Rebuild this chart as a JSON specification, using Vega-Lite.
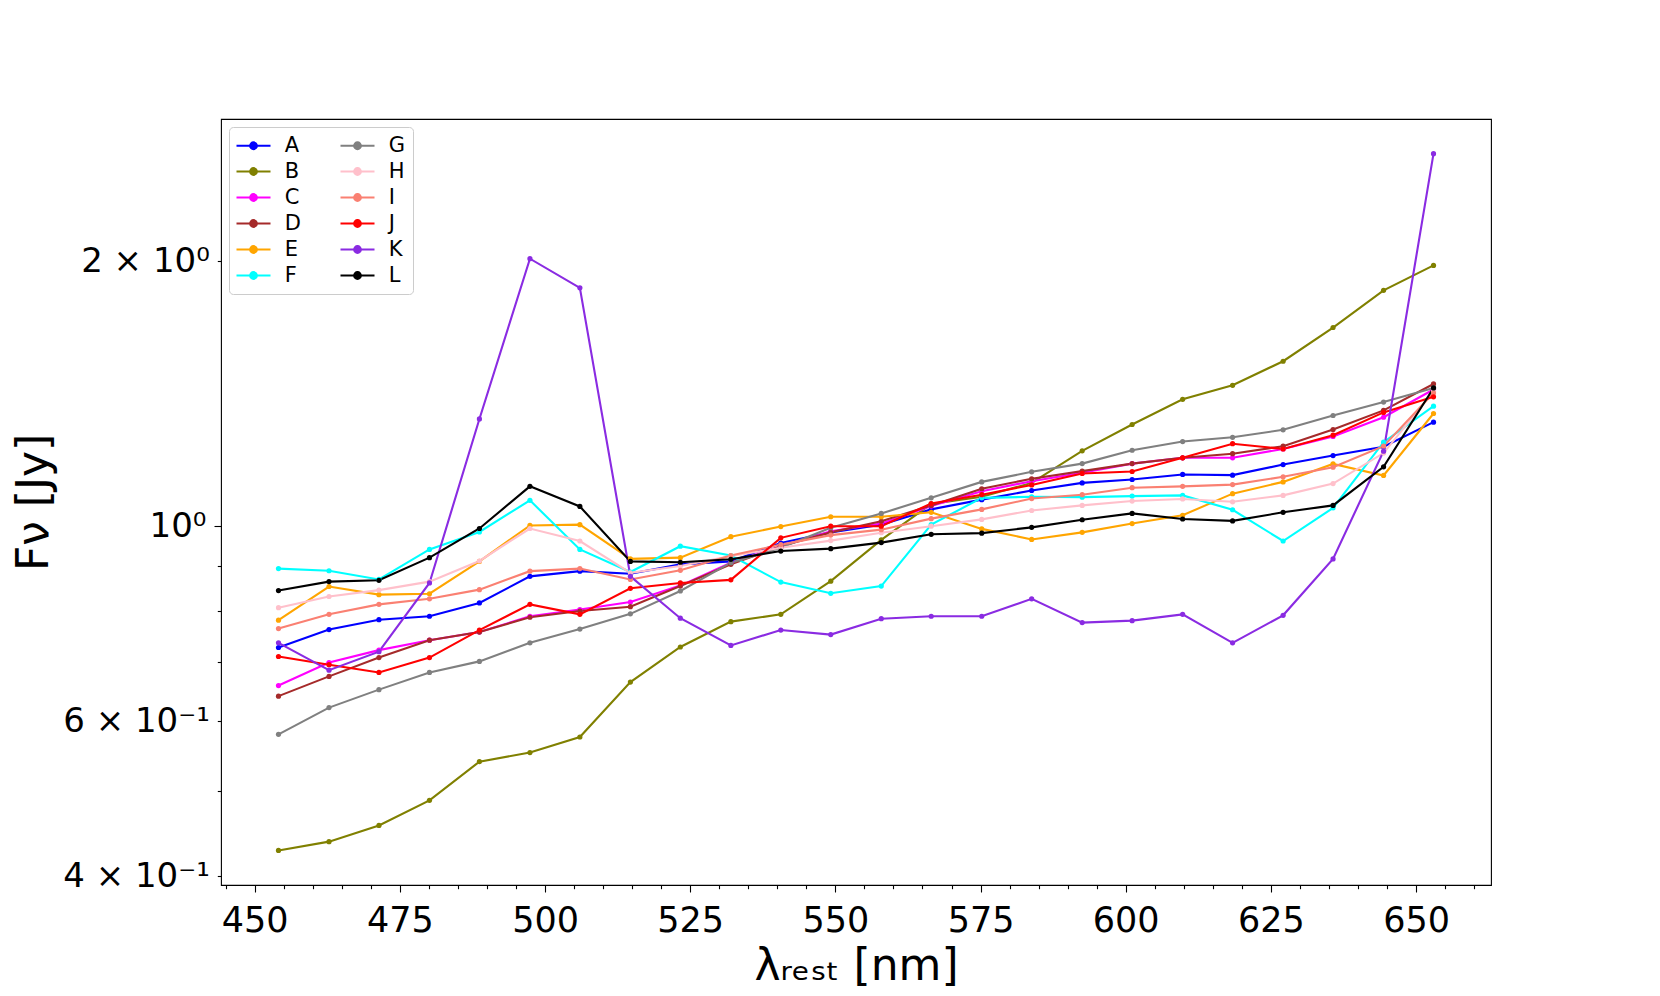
{
  "$schema": "https://vega.github.io/schema/vega-lite/v6.json",
  "description": "Flux density spectra of twelve sources against rest wavelength, log scale",
  "width": 1270,
  "height": 766,
  "autosize": {"type": "none"},
  "padding": {"left": 221, "top": 119, "right": 169, "bottom": 111},
  "background": "white",
  "datasets": {
    "spectra": [
      {"s":"A","w":454.1,"f":0.728},{"s":"A","w":462.8,"f":0.763},{"s":"A","w":471.4,"f":0.783},{"s":"A","w":480.1,"f":0.790},{"s":"A","w":488.7,"f":0.818},{"s":"A","w":497.4,"f":0.877},{"s":"A","w":506.0,"f":0.889},{"s":"A","w":514.7,"f":0.883},{"s":"A","w":523.3,"f":0.905},{"s":"A","w":532.0,"f":0.912},{"s":"A","w":540.6,"f":0.957},{"s":"A","w":549.2,"f":0.984},{"s":"A","w":557.9,"f":1.004},{"s":"A","w":566.5,"f":1.045},{"s":"A","w":575.2,"f":1.072},{"s":"A","w":583.8,"f":1.098},{"s":"A","w":592.5,"f":1.120},{"s":"A","w":601.1,"f":1.130},{"s":"A","w":609.8,"f":1.145},{"s":"A","w":618.4,"f":1.143},{"s":"A","w":627.1,"f":1.175},{"s":"A","w":635.7,"f":1.203},{"s":"A","w":644.4,"f":1.231},{"s":"A","w":653.0,"f":1.313},
      {"s":"B","w":454.1,"f":0.428},{"s":"B","w":462.8,"f":0.438},{"s":"B","w":471.4,"f":0.457},{"s":"B","w":480.1,"f":0.488},{"s":"B","w":488.7,"f":0.540},{"s":"B","w":497.4,"f":0.553},{"s":"B","w":506.0,"f":0.576},{"s":"B","w":514.7,"f":0.665},{"s":"B","w":523.3,"f":0.729},{"s":"B","w":532.0,"f":0.779},{"s":"B","w":540.6,"f":0.794},{"s":"B","w":549.2,"f":0.866},{"s":"B","w":557.9,"f":0.965},{"s":"B","w":566.5,"f":1.060},{"s":"B","w":575.2,"f":1.080},{"s":"B","w":583.8,"f":1.120},{"s":"B","w":592.5,"f":1.218},{"s":"B","w":601.1,"f":1.305},{"s":"B","w":609.8,"f":1.394},{"s":"B","w":618.4,"f":1.446},{"s":"B","w":627.1,"f":1.540},{"s":"B","w":635.7,"f":1.682},{"s":"B","w":644.4,"f":1.854},{"s":"B","w":653.0,"f":1.979},
      {"s":"C","w":454.1,"f":0.659},{"s":"C","w":462.8,"f":0.700},{"s":"C","w":471.4,"f":0.723},{"s":"C","w":480.1,"f":0.742},{"s":"C","w":488.7,"f":0.758},{"s":"C","w":497.4,"f":0.790},{"s":"C","w":506.0,"f":0.804},{"s":"C","w":514.7,"f":0.820},{"s":"C","w":523.3,"f":0.856},{"s":"C","w":532.0,"f":0.909},{"s":"C","w":540.6,"f":0.949},{"s":"C","w":549.2,"f":0.987},{"s":"C","w":557.9,"f":1.007},{"s":"C","w":566.5,"f":1.054},{"s":"C","w":575.2,"f":1.096},{"s":"C","w":583.8,"f":1.125},{"s":"C","w":592.5,"f":1.150},{"s":"C","w":601.1,"f":1.178},{"s":"C","w":609.8,"f":1.196},{"s":"C","w":618.4,"f":1.196},{"s":"C","w":627.1,"f":1.224},{"s":"C","w":635.7,"f":1.265},{"s":"C","w":644.4,"f":1.330},{"s":"C","w":653.0,"f":1.430},
      {"s":"D","w":454.1,"f":0.641},{"s":"D","w":462.8,"f":0.675},{"s":"D","w":471.4,"f":0.709},{"s":"D","w":480.1,"f":0.742},{"s":"D","w":488.7,"f":0.758},{"s":"D","w":497.4,"f":0.788},{"s":"D","w":506.0,"f":0.801},{"s":"D","w":514.7,"f":0.810},{"s":"D","w":523.3,"f":0.855},{"s":"D","w":532.0,"f":0.905},{"s":"D","w":540.6,"f":0.949},{"s":"D","w":549.2,"f":0.984},{"s":"D","w":557.9,"f":1.013},{"s":"D","w":566.5,"f":1.056},{"s":"D","w":575.2,"f":1.103},{"s":"D","w":583.8,"f":1.132},{"s":"D","w":592.5,"f":1.155},{"s":"D","w":601.1,"f":1.178},{"s":"D","w":609.8,"f":1.196},{"s":"D","w":618.4,"f":1.209},{"s":"D","w":627.1,"f":1.233},{"s":"D","w":635.7,"f":1.288},{"s":"D","w":644.4,"f":1.354},{"s":"D","w":653.0,"f":1.451},
      {"s":"E","w":454.1,"f":0.782},{"s":"E","w":462.8,"f":0.854},{"s":"E","w":471.4,"f":0.836},{"s":"E","w":480.1,"f":0.838},{"s":"E","w":488.7,"f":0.912},{"s":"E","w":497.4,"f":1.002},{"s":"E","w":506.0,"f":1.004},{"s":"E","w":514.7,"f":0.918},{"s":"E","w":523.3,"f":0.921},{"s":"E","w":532.0,"f":0.973},{"s":"E","w":540.6,"f":0.999},{"s":"E","w":549.2,"f":1.025},{"s":"E","w":557.9,"f":1.025},{"s":"E","w":566.5,"f":1.037},{"s":"E","w":575.2,"f":0.993},{"s":"E","w":583.8,"f":0.966},{"s":"E","w":592.5,"f":0.984},{"s":"E","w":601.1,"f":1.007},{"s":"E","w":609.8,"f":1.029},{"s":"E","w":618.4,"f":1.089},{"s":"E","w":627.1,"f":1.123},{"s":"E","w":635.7,"f":1.177},{"s":"E","w":644.4,"f":1.142},{"s":"E","w":653.0,"f":1.343},
      {"s":"F","w":454.1,"f":0.895},{"s":"F","w":462.8,"f":0.890},{"s":"F","w":471.4,"f":0.870},{"s":"F","w":480.1,"f":0.941},{"s":"F","w":488.7,"f":0.985},{"s":"F","w":497.4,"f":1.070},{"s":"F","w":506.0,"f":0.941},{"s":"F","w":514.7,"f":0.887},{"s":"F","w":523.3,"f":0.949},{"s":"F","w":532.0,"f":0.926},{"s":"F","w":540.6,"f":0.864},{"s":"F","w":549.2,"f":0.839},{"s":"F","w":557.9,"f":0.855},{"s":"F","w":566.5,"f":1.004},{"s":"F","w":575.2,"f":1.077},{"s":"F","w":583.8,"f":1.080},{"s":"F","w":592.5,"f":1.079},{"s":"F","w":601.1,"f":1.082},{"s":"F","w":609.8,"f":1.084},{"s":"F","w":618.4,"f":1.044},{"s":"F","w":627.1,"f":0.962},{"s":"F","w":635.7,"f":1.049},{"s":"F","w":644.4,"f":1.246},{"s":"F","w":653.0,"f":1.369},
      {"s":"G","w":454.1,"f":0.580},{"s":"G","w":462.8,"f":0.622},{"s":"G","w":471.4,"f":0.652},{"s":"G","w":480.1,"f":0.682},{"s":"G","w":488.7,"f":0.702},{"s":"G","w":497.4,"f":0.737},{"s":"G","w":506.0,"f":0.764},{"s":"G","w":514.7,"f":0.795},{"s":"G","w":523.3,"f":0.844},{"s":"G","w":532.0,"f":0.909},{"s":"G","w":540.6,"f":0.945},{"s":"G","w":549.2,"f":0.996},{"s":"G","w":557.9,"f":1.034},{"s":"G","w":566.5,"f":1.077},{"s":"G","w":575.2,"f":1.123},{"s":"G","w":583.8,"f":1.153},{"s":"G","w":592.5,"f":1.178},{"s":"G","w":601.1,"f":1.220},{"s":"G","w":609.8,"f":1.248},{"s":"G","w":618.4,"f":1.262},{"s":"G","w":627.1,"f":1.287},{"s":"G","w":635.7,"f":1.336},{"s":"G","w":644.4,"f":1.384},{"s":"G","w":653.0,"f":1.436},
      {"s":"H","w":454.1,"f":0.808},{"s":"H","w":462.8,"f":0.832},{"s":"H","w":471.4,"f":0.846},{"s":"H","w":480.1,"f":0.865},{"s":"H","w":488.7,"f":0.913},{"s":"H","w":497.4,"f":0.994},{"s":"H","w":506.0,"f":0.962},{"s":"H","w":514.7,"f":0.885},{"s":"H","w":523.3,"f":0.901},{"s":"H","w":532.0,"f":0.925},{"s":"H","w":540.6,"f":0.945},{"s":"H","w":549.2,"f":0.963},{"s":"H","w":557.9,"f":0.983},{"s":"H","w":566.5,"f":1.000},{"s":"H","w":575.2,"f":1.018},{"s":"H","w":583.8,"f":1.042},{"s":"H","w":592.5,"f":1.056},{"s":"H","w":601.1,"f":1.068},{"s":"H","w":609.8,"f":1.074},{"s":"H","w":618.4,"f":1.066},{"s":"H","w":627.1,"f":1.084},{"s":"H","w":635.7,"f":1.118},{"s":"H","w":644.4,"f":1.211},{"s":"H","w":653.0,"f":1.423},
      {"s":"I","w":454.1,"f":0.765},{"s":"I","w":462.8,"f":0.794},{"s":"I","w":471.4,"f":0.815},{"s":"I","w":480.1,"f":0.827},{"s":"I","w":488.7,"f":0.847},{"s":"I","w":497.4,"f":0.889},{"s":"I","w":506.0,"f":0.895},{"s":"I","w":514.7,"f":0.870},{"s":"I","w":523.3,"f":0.891},{"s":"I","w":532.0,"f":0.926},{"s":"I","w":540.6,"f":0.953},{"s":"I","w":549.2,"f":0.977},{"s":"I","w":557.9,"f":0.991},{"s":"I","w":566.5,"f":1.020},{"s":"I","w":575.2,"f":1.045},{"s":"I","w":583.8,"f":1.075},{"s":"I","w":592.5,"f":1.086},{"s":"I","w":601.1,"f":1.106},{"s":"I","w":609.8,"f":1.110},{"s":"I","w":618.4,"f":1.115},{"s":"I","w":627.1,"f":1.138},{"s":"I","w":635.7,"f":1.167},{"s":"I","w":644.4,"f":1.233},{"s":"I","w":653.0,"f":1.417},
      {"s":"J","w":454.1,"f":0.711},{"s":"J","w":462.8,"f":0.696},{"s":"J","w":471.4,"f":0.682},{"s":"J","w":480.1,"f":0.709},{"s":"J","w":488.7,"f":0.762},{"s":"J","w":497.4,"f":0.815},{"s":"J","w":506.0,"f":0.794},{"s":"J","w":514.7,"f":0.850},{"s":"J","w":523.3,"f":0.862},{"s":"J","w":532.0,"f":0.869},{"s":"J","w":540.6,"f":0.970},{"s":"J","w":549.2,"f":1.000},{"s":"J","w":557.9,"f":1.000},{"s":"J","w":566.5,"f":1.061},{"s":"J","w":575.2,"f":1.086},{"s":"J","w":583.8,"f":1.114},{"s":"J","w":592.5,"f":1.148},{"s":"J","w":601.1,"f":1.154},{"s":"J","w":609.8,"f":1.196},{"s":"J","w":618.4,"f":1.241},{"s":"J","w":627.1,"f":1.224},{"s":"J","w":635.7,"f":1.269},{"s":"J","w":644.4,"f":1.347},{"s":"J","w":653.0,"f":1.403},
      {"s":"K","w":454.1,"f":0.737},{"s":"K","w":462.8,"f":0.686},{"s":"K","w":471.4,"f":0.720},{"s":"K","w":480.1,"f":0.862},{"s":"K","w":488.7,"f":1.324},{"s":"K","w":497.4,"f":2.014},{"s":"K","w":506.0,"f":1.866},{"s":"K","w":514.7,"f":0.877},{"s":"K","w":523.3,"f":0.786},{"s":"K","w":532.0,"f":0.732},{"s":"K","w":540.6,"f":0.762},{"s":"K","w":549.2,"f":0.753},{"s":"K","w":557.9,"f":0.785},{"s":"K","w":566.5,"f":0.790},{"s":"K","w":575.2,"f":0.790},{"s":"K","w":583.8,"f":0.827},{"s":"K","w":592.5,"f":0.777},{"s":"K","w":601.1,"f":0.781},{"s":"K","w":609.8,"f":0.794},{"s":"K","w":618.4,"f":0.737},{"s":"K","w":627.1,"f":0.792},{"s":"K","w":635.7,"f":0.918},{"s":"K","w":644.4,"f":1.217},{"s":"K","w":653.0,"f":2.651},
      {"s":"L","w":454.1,"f":0.845},{"s":"L","w":462.8,"f":0.865},{"s":"L","w":471.4,"f":0.868},{"s":"L","w":480.1,"f":0.921},{"s":"L","w":488.7,"f":0.994},{"s":"L","w":497.4,"f":1.110},{"s":"L","w":506.0,"f":1.053},{"s":"L","w":514.7,"f":0.912},{"s":"L","w":523.3,"f":0.910},{"s":"L","w":532.0,"f":0.917},{"s":"L","w":540.6,"f":0.937},{"s":"L","w":549.2,"f":0.943},{"s":"L","w":557.9,"f":0.958},{"s":"L","w":566.5,"f":0.979},{"s":"L","w":575.2,"f":0.982},{"s":"L","w":583.8,"f":0.997},{"s":"L","w":592.5,"f":1.017},{"s":"L","w":601.1,"f":1.034},{"s":"L","w":609.8,"f":1.019},{"s":"L","w":618.4,"f":1.014},{"s":"L","w":627.1,"f":1.037},{"s":"L","w":635.7,"f":1.056},{"s":"L","w":644.4,"f":1.168},{"s":"L","w":653.0,"f":1.436}
    ]
  },
  "data": {"name": "spectra"},
  "encoding": {
    "x": {
      "field": "w",
      "type": "quantitative",
      "title": "λᵣₑₛₜ [nm]",
      "scale": {"domain": [444.2, 662.9], "nice": false, "zero": false},
      "axis": {
        "values": [445,450,455,460,465,470,475,480,485,490,495,500,505,510,515,520,525,530,535,540,545,550,555,560,565,570,575,580,585,590,595,600,605,610,615,620,625,630,635,640,645,650,655,660],
        "labelExpr": "datum.value % 25 === 0 ? format(datum.value, 'd') : ''",
        "tickSize": {"condition": {"test": "datum.value % 25 === 0", "value": 7}, "value": 3.7},
        "labelPadding": 11,
        "titleY": 94,
        "titleBaseline": "alphabetic"
      }
    },
    "y": {
      "field": "f",
      "type": "quantitative",
      "title": "Fν [Jy]",
      "scale": {"type": "log", "domain": [0.391, 2.903], "nice": false},
      "axis": {
        "values": [0.4, 0.5, 0.6, 0.7, 0.8, 0.9, 1, 2],
        "labelExpr": "datum.value === 2 ? '2 × 10⁰' : datum.value === 1 ? '10⁰' : datum.value === 0.6 ? '6 × 10⁻¹' : datum.value === 0.4 ? '4 × 10⁻¹' : ''",
        "tickSize": {"condition": {"test": "datum.value === 1", "value": 7}, "value": 3.7},
        "labelPadding": 8,
        "labelFontSize": 34,
        "titleX": -174,
        "titleBaseline": "alphabetic"
      }
    },
    "color": {
      "field": "s",
      "type": "nominal",
      "scale": {
        "domain": ["A","B","C","D","E","F","G","H","I","J","K","L"],
        "range": ["#0000ff","#808000","#ff00ff","#a52a2a","#ffa500","#00ffff","#808080","#ffc0cb","#fa8072","#ff0000","#8a2be2","#000000"]
      },
      "legend": {
        "orient": "none",
        "legendX": 8,
        "legendY": 8,
        "title": null,
        "columns": 2,
        "symbolType": "M-2,0H2M-0.4,0A0.4,0.4,0,1,0,0.4,0A0.4,0.4,0,1,0,-0.4,0Z",
        "symbolSize": 289,
        "symbolStrokeWidth": 2,
        "symbolOffset": 6,
        "labelOffset": 20.7,
        "labelFontSize": 21,
        "labelFont": "DejaVu Sans",
        "labelColor": "black",
        "rowPadding": 4,
        "columnPadding": 35,
        "padding": 8,
        "strokeColor": "#cccccc",
        "fillColor": "rgba(255,255,255,0.8)",
        "cornerRadius": 4,
        "encode": {
          "symbols": {
            "update": {
              "fill": {"scale": "color", "field": "value"},
              "stroke": {"scale": "color", "field": "value"},
              "fillOpacity": {"value": 1},
              "strokeOpacity": {"value": 1}
            }
          }
        }
      }
    }
  },
  "layer": [
    {"mark": {"type": "line", "strokeWidth": 2.1}},
    {"mark": {"type": "circle", "size": 27, "opacity": 1}}
  ],
  "config": {
    "font": "DejaVu Sans",
    "view": {"stroke": "black", "strokeWidth": 1.1, "fill": "white"},
    "axis": {
      "domain": false,
      "grid": false,
      "ticks": true,
      "tickColor": "black",
      "tickWidth": 1.1,
      "labelFont": "DejaVu Sans",
      "labelFontSize": 35,
      "labelColor": "black",
      "labelOverlap": false,
      "labelFlush": false,
      "titleFont": "DejaVu Sans",
      "titleFontSize": 44,
      "titleFontWeight": "normal",
      "titleColor": "black"
    }
  }
}
